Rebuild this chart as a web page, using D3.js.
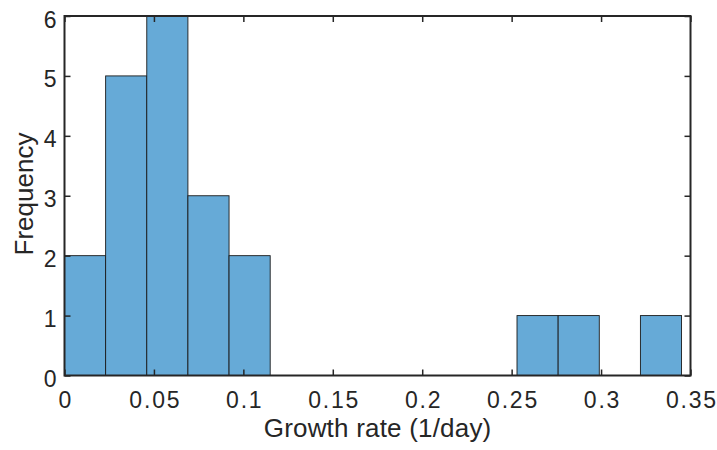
<!DOCTYPE html>
<html>
<head>
<meta charset="utf-8">
<script src="https://cdn.jsdelivr.net/npm/d3@7"></script>
<style>
  html, body { margin: 0; padding: 0; background: #fff; }
  svg { display: block; }
  text { font-family: "Liberation Sans", Helvetica, Arial, sans-serif; fill: #262626; }
</style>
</head>
<body>
<svg id="chart" width="717" height="450"></svg>
<script>
// Histogram of growth rates
const binEdges = [0, 0.023, 0.046, 0.069, 0.092, 0.115, 0.138, 0.161, 0.184, 0.207,
                  0.230, 0.253, 0.276, 0.299, 0.322, 0.345];
const counts = [2, 5, 6, 3, 2, 0, 0, 0, 0, 0, 0, 1, 1, 0, 1];
const xTicks = [0, 0.05, 0.1, 0.15, 0.2, 0.25, 0.3, 0.35];
const xTickLabels = ["0", "0.05", "0.1", "0.15", "0.2", "0.25", "0.3", "0.35"];
const yTicks = [0, 1, 2, 3, 4, 5, 6];
const xLabel = "Growth rate (1/day)";
const yLabel = "Frequency";

const margin = { left: 64.5, right: 717 - 690.5, top: 16, bottom: 450 - 375.5 };
const W = 717, H = 450;
const svg = d3.select("#chart");

const x = d3.scaleLinear().domain([0, 0.35]).range([margin.left, W - margin.right]);
const y = d3.scaleLinear().domain([0, 6]).range([H - margin.bottom, margin.top]);

const bins = counts.map((c, i) => ({ x0: binEdges[i], x1: binEdges[i + 1], n: c }));

// bars
svg.append("g")
  .selectAll("rect")
  .data(bins.filter(d => d.n > 0))
  .join("rect")
  .attr("x", d => x(d.x0))
  .attr("y", d => y(d.n))
  .attr("width", d => x(d.x1) - x(d.x0))
  .attr("height", d => y(0) - y(d.n))
  .attr("fill", "rgb(102,170,215)")
  .attr("stroke", "#1a1a1a")
  .attr("stroke-width", 0.9);

const axisColor = "#262626";
const tickLen = 6;
const fontStack = '"Liberation Sans", Helvetica, Arial, sans-serif';

// bottom axis (ticks inward)
const xAxis = svg.append("g")
  .attr("transform", `translate(0,${y(0)})`)
  .call(d3.axisBottom(x).tickValues(xTicks).tickSize(-tickLen).tickPadding(16.5)
    .tickFormat((d, i) => xTickLabels[i]));
xAxis.selectAll("text")
  .attr("font-size", 23)
  .attr("letter-spacing", "1.8px")
  .attr("dx", 0.9);

// top axis ticks
svg.append("g")
  .attr("transform", `translate(0,${y(6)})`)
  .call(d3.axisTop(x).tickValues(xTicks).tickSize(-tickLen).tickFormat(""));

// left axis
const yAxis = svg.append("g")
  .attr("transform", `translate(${x(0)},0)`)
  .call(d3.axisLeft(y).tickValues(yTicks).tickSize(-tickLen).tickPadding(8).tickFormat(d3.format("d")));
yAxis.selectAll("text").attr("font-size", 23).attr("dy", "0.48em");

// right axis ticks
svg.append("g")
  .attr("transform", `translate(${x(0.35)},0)`)
  .call(d3.axisRight(y).tickValues(yTicks).tickSize(-tickLen).tickFormat(""));

svg.selectAll(".domain").remove();
svg.selectAll(".tick line").attr("stroke", axisColor).attr("stroke-width", 1.5);
svg.selectAll(".tick text").attr("fill", axisColor).style("font-family", fontStack);

// frame
svg.append("rect")
  .attr("x", x(0)).attr("y", y(6))
  .attr("width", x(0.35) - x(0)).attr("height", y(0) - y(6))
  .attr("fill", "none").attr("stroke", axisColor).attr("stroke-width", 2);

// axis titles
svg.append("text")
  .attr("x", (x(0) + x(0.35)) / 2 + 0.1)
  .attr("y", 437.3)
  .attr("text-anchor", "middle")
  .attr("font-size", 26)
  .attr("letter-spacing", "0.2px")
  .text(xLabel);

svg.append("text")
  .attr("transform", `translate(32.5,194) rotate(-90)`)
  .attr("text-anchor", "middle")
  .attr("font-size", 26)
  .text(yLabel);
</script>
</body>
</html>
